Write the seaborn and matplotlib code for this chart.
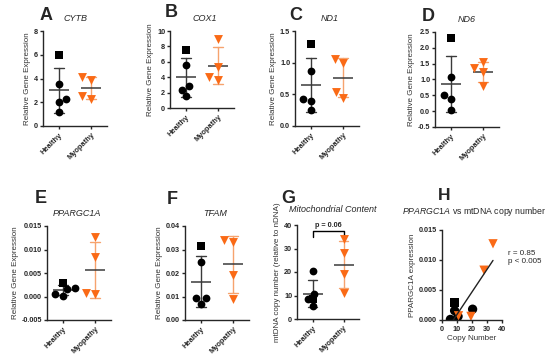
import numpy as np
import pandas as pd
import matplotlib
matplotlib.use("Agg")
import matplotlib.pyplot as plt
import seaborn as sns

# ---- data (first healthy value is the square-marked subject) ----
groups = ["Healthy", "Myopathy"]

cytb_healthy = [6.0, 3.5, 2.3, 2.0, 1.2]
cytb_myopathy = [4.1, 3.9, 2.5, 2.3]

cox1_healthy = [7.5, 5.6, 2.9, 2.4, 1.5]
cox1_myopathy = [9.0, 5.3, 4.0, 3.7]

nd1_healthy = [1.3, 0.87, 0.43, 0.40, 0.26]
nd1_myopathy = [1.06, 0.99, 0.54, 0.45]

nd6_healthy = [2.3, 1.07, 0.52, 0.38, 0.05]
nd6_myopathy = [1.55, 1.35, 1.25, 0.78]

ppargc1a_healthy = [0.0029, 0.00156, 0.0018, 0.0001, 0.0006]
ppargc1a_myopathy = [0.0127, 0.0083, 0.0006, 0.0007]

tfam_healthy = [0.0315, 0.0245, 0.0095, 0.0093, 0.0068]
tfam_myopathy = [0.034, 0.033, 0.019, 0.0088]

copy_healthy = [8.4, 8.4, 20.4, 5.6, 10.7]
copy_myopathy = [34.0, 28.0, 19.3, 11.0]

ORANGE = "#FA6A16"
ORANGE_LIGHT = "#F6A36E"
DARK = "#3a3a3a"

W, H = 550, 356

sns.set_style("ticks")
plt.rcParams["font.family"] = ["Liberation Sans", "DejaVu Sans"]
plt.rcParams["mathtext.fontset"] = "custom"
plt.rcParams["mathtext.it"] = "Liberation Sans:italic"
plt.rcParams["mathtext.rm"] = "Liberation Sans"
plt.rcParams["axes.linewidth"] = 1.0
plt.rcParams["xtick.major.size"] = 2.5
plt.rcParams["ytick.major.size"] = 2.5
plt.rcParams["xtick.major.width"] = 1.0
plt.rcParams["ytick.major.width"] = 1.0
plt.rcParams["xtick.major.pad"] = 1.5
plt.rcParams["ytick.major.pad"] = 1.0

fig = plt.figure(figsize=(W / 100, H / 100), dpi=100)


def px_axes(left, top, right, bottom):
    return fig.add_axes([left / W, 1 - bottom / H, (right - left) / W, (bottom - top) / H])


def style_ticks(ax):
    for lab in ax.get_yticklabels() + ax.get_xticklabels():
        lab.set_fontweight("bold")
        lab.set_fontsize(5.2)
    sns.despine(ax=ax)


def group_panel(ax, healthy, myopathy, ylim, yticks, yfmt, ylabel="Relative Gene Expression"):
    df = pd.DataFrame({
        "group": ["Healthy"] * len(healthy) + ["Myopathy"] * len(myopathy),
        "value": list(healthy) + list(myopathy),
        "shape": ["square"] + ["circle"] * (len(healthy) - 1) + ["triangle"] * len(myopathy),
    })
    # SD error bars
    sns.pointplot(data=df, x="group", y="value", hue="group", order=groups,
                  palette={"Healthy": DARK, "Myopathy": ORANGE_LIGHT},
                  errorbar="sd", capsize=0.3, linestyle="none", markersize=0,
                  err_kws={"linewidth": 1.0}, legend=False, ax=ax)
    sns.swarmplot(data=df[df["shape"] == "circle"], x="group", y="value", order=groups,
                  color="black", marker="o", size=5.6, ax=ax)
    sns.swarmplot(data=df[df["shape"] == "square"], x="group", y="value", order=groups,
                  color="black", marker="s", size=5.4, ax=ax)
    sns.swarmplot(data=df[df["shape"] == "triangle"], x="group", y="value", order=groups,
                  color=ORANGE, marker="v", size=6.4, ax=ax)
    # mean lines
    sns.pointplot(data=df, x="group", y="value", order=groups, errorbar=None,
                  color=DARK, marker="_", markersize=15, markeredgewidth=1.1,
                  linestyle="none", ax=ax)
    ax.set_xlim(-0.5, 1.5)
    ax.set_ylim(*ylim)
    ax.set_yticks(yticks)
    ax.set_yticklabels([yfmt.format(t) for t in yticks])
    ax.set_xlabel("")
    ax.set_ylabel(ylabel, fontsize=5.8, color="#333333", labelpad=2)
    style_ticks(ax)
    for lab in ax.get_xticklabels():
        lab.set_rotation(45)
        lab.set_ha("right")
        lab.set_rotation_mode("anchor")
        lab.set_fontsize(5.4)
    return df


def label(x, y, letter, title_x, title_y, title, italic=True):
    fig.text(x / W, 1 - y / H, letter, fontsize=13, fontweight="bold", ha="left", va="baseline")
    fig.text(title_x / W, 1 - title_y / H, title, fontsize=6.5,
             style="italic" if italic else "normal", ha="center", va="baseline")


# ---- top row ----
axA = px_axes(43, 31, 107, 126)
group_panel(axA, cytb_healthy, cytb_myopathy, (0, 8), [0, 2, 4, 6, 8], "{:g}")
label(40, 20, "A", 75, 21, "CYTB")

axB = px_axes(170, 31, 234, 108)
group_panel(axB, cox1_healthy, cox1_myopathy, (0, 10), [0, 2, 4, 6, 8, 10], "{:g}")
label(165, 17, "B", 205, 21, "COX1")

axC = px_axes(295, 31, 359, 126)
group_panel(axC, nd1_healthy, nd1_myopathy, (0, 1.5), [0, 0.5, 1.0, 1.5], "{:.1f}")
label(289, 20, "C", 330, 21, "ND1")

axD = px_axes(435, 32, 499, 127)
group_panel(axD, nd6_healthy, nd6_myopathy, (-0.5, 2.5), [-0.5, 0, 0.5, 1.0, 1.5, 2.0, 2.5], "{:.1f}")
label(422, 21, "D", 467, 22, "ND6")

# ---- bottom row ----
axE = px_axes(47, 226, 111, 320)
group_panel(axE, ppargc1a_healthy, ppargc1a_myopathy, (-0.005, 0.015),
            [-0.005, 0, 0.005, 0.010, 0.015], "{:.3f}")
label(35, 203, "E", 77, 216, "PPARGC1A")

axF = px_axes(185, 226, 249, 320)
group_panel(axF, tfam_healthy, tfam_myopathy, (0, 0.04), [0, 0.01, 0.02, 0.03, 0.04], "{:.2f}")
label(167, 204, "F", 215, 216, "TFAM")

axG = px_axes(297, 225, 359, 319)
group_panel(axG, copy_healthy, copy_myopathy, (0, 40), [0, 10, 20, 30, 40], "{:g}",
            ylabel="mtDNA copy number (relative to nDNA)")
label(281, 203, "G", 333, 212, "Mitochondrial Content")
bracket_low, bracket_high = 35.0, 37.5
axG.plot([0, 0, 1, 1], [bracket_low, bracket_high, bracket_high, bracket_low],
         color="black", linewidth=1.0)
axG.text(0.5, bracket_high + 0.6, "p = 0.06", fontsize=5.2, fontweight="bold",
         ha="center", va="bottom")

# ---- H: correlation ----
axH = px_axes(442, 230, 502, 320)
corr = pd.DataFrame({
    "copy": copy_healthy + copy_myopathy,
    "expr": ppargc1a_healthy + ppargc1a_myopathy,
    "shape": ["square"] + ["circle"] * (len(copy_healthy) - 1) + ["triangle"] * len(copy_myopathy),
})
sns.regplot(data=corr, x="copy", y="expr", scatter=False, ci=None, truncate=True,
            line_kws={"color": "#222222", "linewidth": 1.0}, ax=axH)
sns.scatterplot(data=corr, x="copy", y="expr", hue="shape", style="shape",
                palette={"square": "black", "circle": "black", "triangle": ORANGE},
                markers={"square": "s", "circle": "o", "triangle": "v"},
                s=45, linewidth=0, legend=False, ax=axH)
axH.set_xlim(0, 40)
axH.set_ylim(0, 0.015)
axH.set_xticks([0, 10, 20, 30, 40])
axH.set_yticks([0, 0.005, 0.010, 0.015])
axH.set_yticklabels(["{:.3f}".format(t) for t in [0, 0.005, 0.010, 0.015]])
axH.set_xlabel("Copy Number", fontsize=5.8, color="#333333", labelpad=2)
axH.set_ylabel("PPARGC1A expression", fontsize=5.8, color="#333333", labelpad=2)
style_ticks(axH)
axH.text(1.1, 0.78, "r = 0.85\np < 0.005", transform=axH.transAxes, fontsize=5.8,
         ha="left", va="top", linespacing=1.2)
fig.text(438 / W, 1 - 200 / H, "H", fontsize=12.5, fontweight="bold", ha="left", va="baseline")
fig.text(474 / W, 1 - 214 / H, r"$\mathit{PPARGC1A}$ vs mtDNA copy number", fontsize=6.3,
         ha="center", va="baseline")

fig.savefig("out.png", dpi=100)
